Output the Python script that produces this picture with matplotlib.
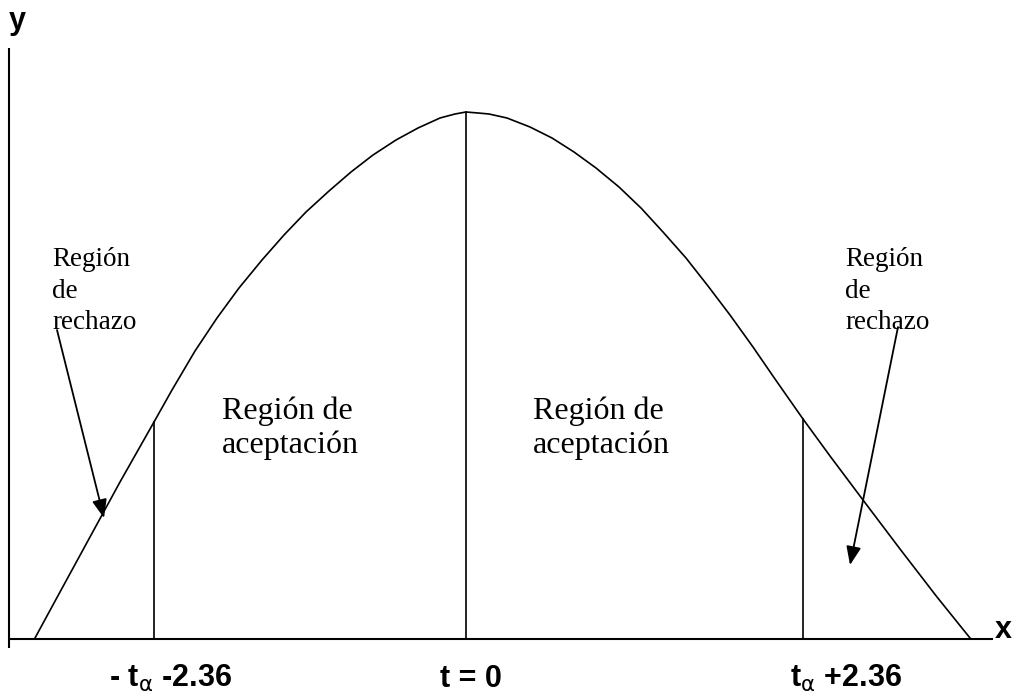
import matplotlib
matplotlib.use("Agg")
import matplotlib.pyplot as plt

# ---- data (x = horizontal position, h = height above the x axis) ----
curve_x = [35, 60, 90, 120, 154, 172, 195, 217, 239, 262, 284, 306, 329, 351, 373, 396,
           418, 440, 455, 466, 478, 489, 507, 530, 552, 574, 596, 619, 641, 663, 686,
           708, 730, 753, 775, 803, 830, 863, 900, 937, 970]
curve_h = [0, 46, 101, 156, 216, 248, 287, 320, 350, 378, 403, 426, 447, 466, 483, 498,
           510, 520, 524, 526, 525, 524, 520, 511, 500, 486, 470, 451, 430, 406, 380,
           352, 323, 291, 259, 219, 182, 138, 89, 41, 0]

crit_x = [154, 466, 803]          # -t_alpha, t = 0, +t_alpha
crit_h = [216, 526, 219]

tick_labels = [r"- t$_{\mathrm{\alpha}}$ -2.36", "t = 0", r"t$_{\mathrm{\alpha}}$ +2.36"]
tick_pos = [170, 471, 846]

accept_label = "Región de\naceptación"
reject_label = "Región\nde\nrechazo"

plt.rcParams['mathtext.fontset'] = 'dejavusans'

fig = plt.figure(figsize=(10.13, 6.94), dpi=100)
ax = fig.add_axes([0, 0, 1, 1])
ax.set_xlim(0, 1013)
ax.set_ylim(-56, 638)
ax.axis('off')

# axes lines
ax.plot([9, 9], [-10, 590], color='black', lw=1.5, solid_capstyle='butt')
ax.plot([9, 993], [-1, -1], color='black', lw=1.5, solid_capstyle='butt')

# curve
ax.plot(curve_x, curve_h, color='black', lw=1.2, solid_joinstyle='round')

# vertical lines
for xv, hv in zip(crit_x, crit_h):
    ax.plot([xv, xv], [0, hv], color='black', lw=1.2)

# axis letters
bold = dict(family='Liberation Sans', fontweight='bold', fontsize=22, color='black')
ax.text(9, 609, "y", ha='left', va='baseline', **bold)
ax.text(995, 0, "x", ha='left', va='baseline', **bold)

# bottom labels
for lab, xp in zip(tick_labels, tick_pos):
    ax.text(xp, -49, lab, ha='center', va='baseline', **bold)

# region texts
serif_big = dict(family='Liberation Serif', fontsize=23, color='black', linespacing=1.2)
ax.text(222, 242, accept_label, ha='left', va='top', **serif_big)
ax.text(533, 242, accept_label, ha='left', va='top', **serif_big)

serif_small = dict(family='Liberation Serif', fontsize=19.5, color='black', linespacing=1.35)
ax.text(52, 391, reject_label, ha='left', va='top', **serif_small)
ax.text(845, 391, reject_label, ha='left', va='top', **serif_small)

# arrows
arrow = dict(arrowstyle='-|>,head_length=0.7,head_width=0.28', color='black', lw=1.3,
             mutation_scale=16, shrinkA=0, shrinkB=0)
ax.annotate("", xy=(104, 120), xytext=(57, 308), arrowprops=arrow)
ax.annotate("", xy=(850, 73), xytext=(898, 311), arrowprops=arrow)

fig.savefig("out.png", dpi=100)
